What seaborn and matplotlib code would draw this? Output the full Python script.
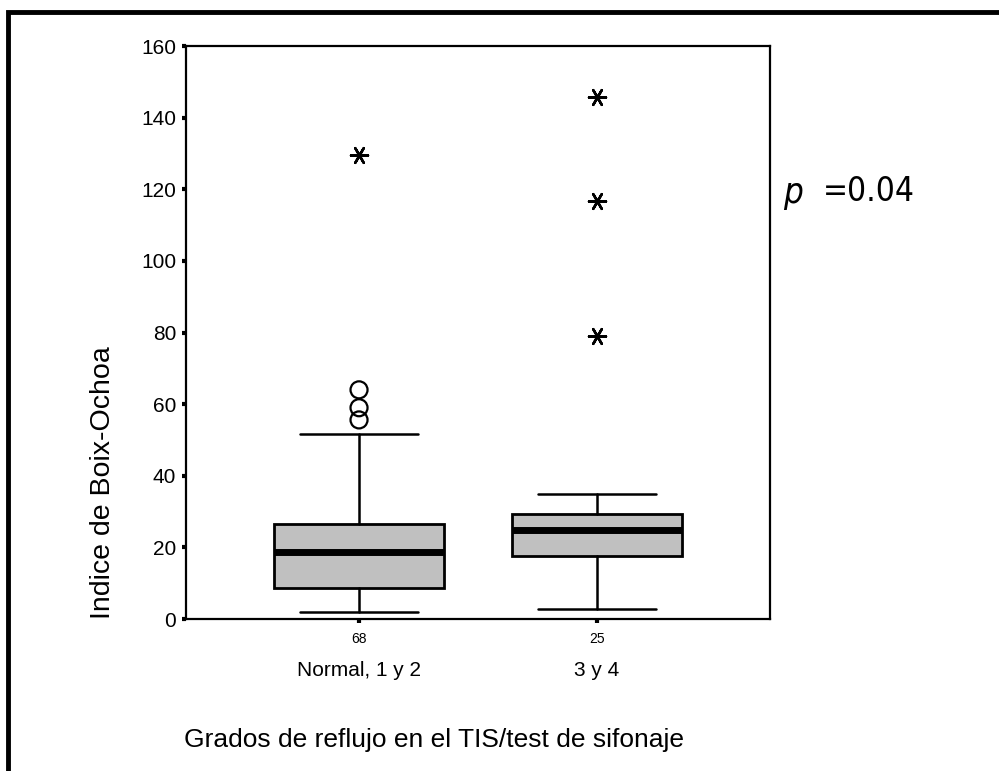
import matplotlib
matplotlib.use("Agg")
import matplotlib.pyplot as plt
from matplotlib.patches import Rectangle
import seaborn as sns
import pandas as pd

# Group labels and sample sizes
groups = ["Normal, 1 y 2", "3 y 4"]
counts = ["68", "25"]

# Box summary per group: whisker low, Q1, median, Q3, whisker high
whislo = [2.0, 2.7]
q1 = [8.7, 17.7]
med = [18.8, 24.9]
q3 = [26.5, 29.4]
whishi = [51.7, 34.9]

# Outliers (circles) and extreme values (asterisks)
outlier_group = [0, 0, 0]
outlier_value = [55.6, 59.0, 64.0]
extreme_group = [0, 1, 1, 1]
extreme_value = [129.6, 145.9, 116.8, 79.0]

p_text = "=0.04"

sns.set_theme(style="white")
plt.rcParams["font.family"] = ["Liberation Sans", "DejaVu Sans"]
plt.rcParams.update({"text.color": "black", "axes.labelcolor": "black",
                     "xtick.color": "black", "ytick.color": "black"})

fig = plt.figure(figsize=(9.99, 7.71), dpi=100)
ax = fig.add_axes([0.1862, 0.1971, 0.5846, 0.7432])

stats = [
    dict(whislo=whislo[i], q1=q1[i], med=med[i], q3=q3[i], whishi=whishi[i],
         fliers=[], label=counts[i])
    for i in range(len(groups))
]
ax.bxp(
    stats, positions=range(len(groups)), widths=0.714, capwidths=0.496,
    showfliers=False, patch_artist=True,
    boxprops=dict(facecolor="#c0c0c0", edgecolor="black", linewidth=2),
    medianprops=dict(color="black", linewidth=5, solid_capstyle="butt"),
    whiskerprops=dict(color="black", linewidth=1.8),
    capprops=dict(color="black", linewidth=1.8),
)

out_df = pd.DataFrame({"g": outlier_group, "v": outlier_value})
ext_df = pd.DataFrame({"g": extreme_group, "v": extreme_value})
sns.scatterplot(data=out_df, x="g", y="v", ax=ax, marker="o", s=150,
                facecolor="none", edgecolor="black", linewidth=1.6, zorder=5)
sns.scatterplot(data=ext_df, x="g", y="v", ax=ax, marker=(6, 2, 90), s=150,
                color="black", linewidth=1.8, zorder=5)

ax.set_xlim(-0.727, 1.727)
ax.set_ylim(0, 160)
ax.set_yticks(range(0, 161, 20))
ax.set_xticks(range(len(groups)))
ax.set_xticklabels(counts, fontsize=10)
ax.tick_params(axis="y", which="both", left=True, direction="out", length=3,
               width=3, labelsize=15, pad=4)
ax.tick_params(axis="x", which="both", bottom=True, direction="out", length=3,
               width=3, pad=6)
for s in ax.spines.values():
    s.set_color("black")
    s.set_linewidth(1.6)
ax.set_xlabel("")
ax.set_ylabel("")

for i, g in enumerate(groups):
    ax.text(i, -0.09, g, transform=ax.get_xaxis_transform(), ha="center",
            va="center", fontsize=15)

fig.text(0.103, 0.3735, "Indice de Boix-Ochoa", rotation=90,
         ha="center", va="center", fontsize=20.5)
fig.text(0.434, 0.040, "Grados de reflujo en el TIS/test de sifonaje",
         ha="center", va="center", fontsize=19)

fig.text(0.784, 0.750, "p", style="italic", ha="left", va="center",
         fontsize=25, family=["DejaVu Sans"], fontstretch="condensed")
fig.text(0.824, 0.752, p_text, ha="left", va="center", fontsize=24,
         family=["DejaVu Sans"], fontstretch="condensed")

# Outer frame (left and top edges visible)
fig.add_artist(Rectangle((0.008, -0.1), 1.2, 1.085, transform=fig.transFigure,
                         fill=False, edgecolor="black", linewidth=3.5))

fig.savefig("out.png", dpi=100)
